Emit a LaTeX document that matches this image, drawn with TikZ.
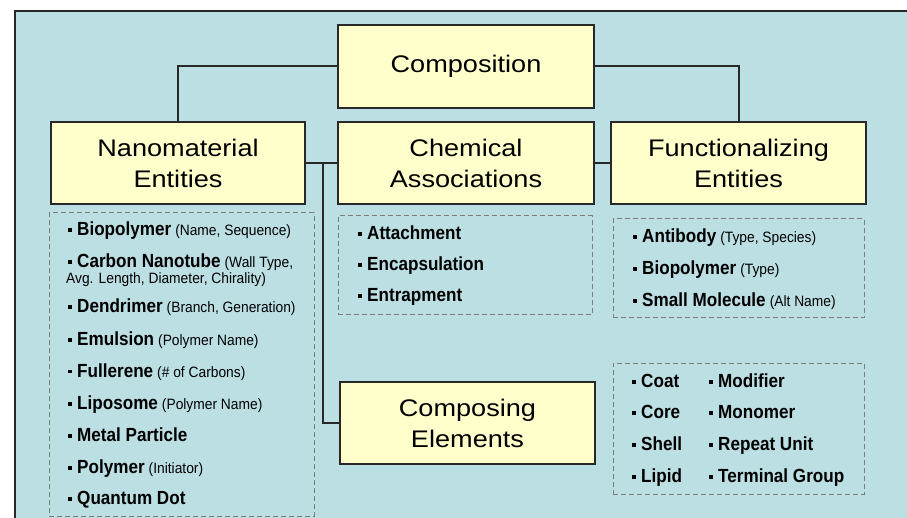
\documentclass[tikz,border=0pt]{standalone}
\usepackage{fontspec}
\setmainfont{Liberation Sans}
\newfontfamily\titlefont{Liberation Sans}[FakeStretch=1.13]
\newfontfamily\namefont{Liberation Sans}[FakeStretch=0.9]
\newfontfamily\descfont{Liberation Sans}[FakeStretch=0.92]

\definecolor{panelblue}{RGB}{188,223,228}
\definecolor{boxyellow}{RGB}{255,255,204}
\definecolor{edgegray}{RGB}{40,40,40}
\definecolor{dashgray}{RGB}{125,125,125}

\newcommand\itm[2]{{\rule[3.5pt]{4pt}{4pt}\hspace{5pt}\namefont\bfseries\fontsize{19}{19}\selectfont #1}\hspace{4pt}{\descfont\fontsize{15}{16}\selectfont #2}}

\tikzset{
  titlebox/.style={draw=edgegray, line width=2pt, fill=boxyellow, align=center,
    font=\titlefont\fontsize{24}{31}\selectfont, inner sep=0pt},
  listbox/.style={draw=dashgray, line width=1pt, dash pattern=on 5pt off 3pt, inner sep=0pt},
  item/.style={anchor=base west, inner sep=0pt, align=left},
  link/.style={draw=edgegray, line width=2pt}
}

\begin{document}
\begin{tikzpicture}[x=1pt, y=-1pt]
    \useasboundingbox (0,0) rectangle (907,518);
    \fill[panelblue] (15,11) rectangle (907,518);
    \draw[edgegray, line width=2pt] (15,518) -- (15,11) -- (907,11);

    % main boxes
    \node[titlebox, minimum width=256pt, minimum height=83pt] (comp) at (466,66.5) {Composition};
    \node[titlebox, minimum width=254pt, minimum height=82pt] (nano) at (178,163) {Nanomaterial\\Entities};
    \node[titlebox, minimum width=256pt, minimum height=82pt] (chem) at (466,163) {Chemical\\Associations};
    \node[titlebox, minimum width=255pt, minimum height=82pt] (func) at (738.5,163) {Functionalizing\\Entities};
    \node[titlebox, minimum width=255pt, minimum height=82pt] (compel) at (467.5,423) {Composing\\Elements};

    % dashed lists
    \node[listbox, minimum width=265pt, minimum height=303pt] (nanolist) at (181.5,364.5) {};
    \node[listbox, minimum width=254pt, minimum height=99pt] (chemlist) at (465,265.5) {};
    \node[listbox, minimum width=251pt, minimum height=99pt] (funclist) at (738.5,268.5) {};
    \node[listbox, minimum width=251pt, minimum height=131pt] (elemlist) at (738.5,428.5) {};

    % connectors
    \coordinate (branch) at (323,163);
    \draw[link] (comp.west) -| (nano.north);
    \draw[link] (comp.east) -| (func.north);
    \draw[link] (nano.east) -- (chem.west);
    \draw[link] (chem.east) -- (func.west);
    \draw[link] (branch) |- (compel.west);

    % nanomaterial items
    \node[item] (biopoly) at (68,236) {\itm{Biopolymer}{(Name, Sequence)}};
    \node[item] (carbon) at (68,268) {\itm{Carbon Nanotube}{(Wall Type,}};
    \node[item] (carbon2) at (66,284) {\descfont\fontsize{15}{16}\selectfont Avg. Length, Diameter, Chirality)};
    \node[item] (dendri) at (68,313) {\itm{Dendrimer}{(Branch, Generation)}};
    \node[item] (emuls) at (68,345) {\itm{Emulsion}{(Polymer Name)}};
    \node[item] (fuller) at (68,377) {\itm{Fullerene}{(\# of Carbons)}};
    \node[item] (liposo) at (68,409) {\itm{Liposome}{(Polymer Name)}};
    \node[item] (metal) at (68,441) {\itm{Metal Particle}{}};
    \node[item] (polym) at (68,473) {\itm{Polymer}{(Initiator)}};
    \node[item] (qdot) at (68,504) {\itm{Quantum Dot}{}};

    % chemical association items
    \node[item] (attach) at (358,240) {\itm{Attachment}{}};
    \node[item] (encaps) at (358,271) {\itm{Encapsulation}{}};
    \node[item] (entrap) at (358,302) {\itm{Entrapment}{}};

    % functionalizing items
    \node[item] (antib) at (633,243) {\itm{Antibody}{(Type, Species)}};
    \node[item] (fbiopoly) at (633,275) {\itm{Biopolymer}{(Type)}};
    \node[item] (smallmol) at (633,307) {\itm{Small Molecule}{(Alt Name)}};

    % composing element items
    \foreach \nm/\yy in {Coat/387, Core/418, Shell/450, Lipid/482}
        \node[item] (el-\nm) at (632,\yy) {\itm{\nm}{}};
    \foreach \nm/\tag/\yy in {Modifier/modif/387, Monomer/monom/418, Repeat Unit/repeat/450, Terminal Group/termin/482}
        \node[item] (el-\tag) at (709,\yy) {\itm{\nm}{}};
\end{tikzpicture}
\end{document}
